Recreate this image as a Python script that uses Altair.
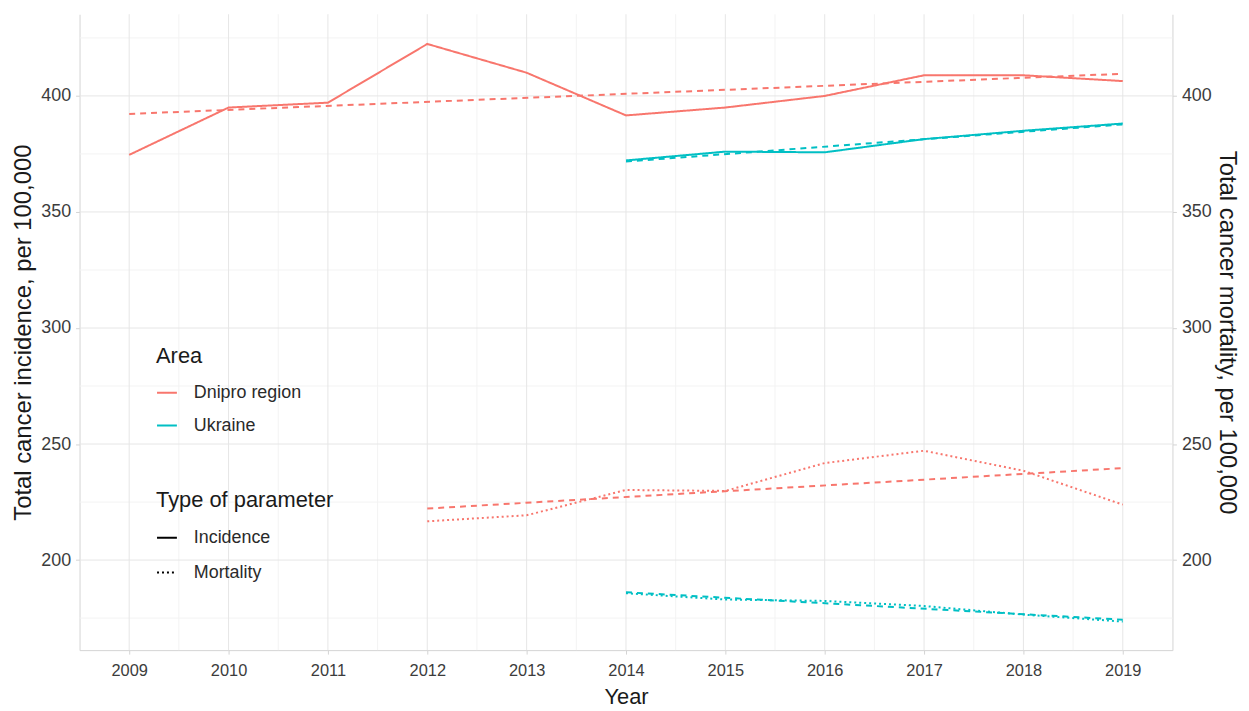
import altair as alt
import pandas as pd

# ---- data ----
years_dnipro_incidence = [2009, 2010, 2011, 2012, 2013, 2014, 2015, 2016, 2017, 2018, 2019]
dnipro_incidence = [374.6, 395.0, 397.1, 422.4, 410.0, 391.6, 395.0, 400.0, 408.9, 408.9, 406.4]

years_dnipro_mortality = [2012, 2013, 2014, 2015, 2016, 2017, 2018, 2019]
dnipro_mortality = [216.7, 219.3, 230.2, 229.8, 241.8, 247.1, 238.5, 223.9]

years_ukraine = [2014, 2015, 2016, 2017, 2018, 2019]
ukraine_incidence = [372.2, 376.0, 375.7, 381.4, 385.0, 388.1]
ukraine_mortality = [185.7, 183.0, 182.4, 180.2, 176.5, 173.5]

areas = ["Dnipro region", "Ukraine"]
area_colors = ["#F8766D", "#00BFC4"]
param_types = ["Incidence", "Mortality"]

x_ticks = [2009, 2010, 2011, 2012, 2013, 2014, 2015, 2016, 2017, 2018, 2019]
x_minor = [2009.5, 2010.5, 2011.5, 2012.5, 2013.5, 2014.5, 2015.5, 2016.5, 2017.5, 2018.5]
y_ticks = [200, 250, 300, 350, 400]
y_minor = [175, 225, 275, 325, 375, 425]

# ---- table ----
rows = []
for y, v in zip(years_dnipro_incidence, dnipro_incidence):
    rows.append({"year": y, "value": v, "area": areas[0], "type": param_types[0]})
for y, v in zip(years_dnipro_mortality, dnipro_mortality):
    rows.append({"year": y, "value": v, "area": areas[0], "type": param_types[1]})
for y, v in zip(years_ukraine, ukraine_incidence):
    rows.append({"year": y, "value": v, "area": areas[1], "type": param_types[0]})
for y, v in zip(years_ukraine, ukraine_mortality):
    rows.append({"year": y, "value": v, "area": areas[1], "type": param_types[1]})
df = pd.DataFrame(rows)

FONT = "Liberation Sans, Arial, Helvetica, sans-serif"

x_scale = alt.Scale(domain=[2008.5, 2019.5], nice=False, zero=False)
y_scale = alt.Scale(domain=[161.2, 435.2], nice=False, zero=False)
color_scale = alt.Scale(domain=areas, range=area_colors)
dash_scale = alt.Scale(domain=param_types, range=[[1, 0], [2, 3]])

x_axis = alt.Axis(values=x_ticks, format="d", title="Year", grid=False,
                  labelFontSize=16.5, titleFontSize=22, titlePadding=7, labelPadding=9)
y_axis_left = alt.Axis(values=y_ticks, title="Total cancer incidence, per 100,000",
                       grid=False, orient="left", labelFontSize=18,
                       titleFontSize=24, titlePadding=5, labelPadding=5)
y_axis_right = alt.Axis(values=y_ticks, title="Total cancer mortality, per 100,000",
                        grid=False, orient="right", labelFontSize=18,
                        titleFontSize=24, titlePadding=3, labelPadding=5)

X = alt.X("year:Q", scale=x_scale, axis=x_axis)
Y = alt.Y("value:Q", scale=y_scale, axis=y_axis_left)

vgrid_major = alt.Chart(pd.DataFrame({"year": x_ticks})).mark_rule(
    color="#E6E6E6", strokeWidth=1).encode(x=X)
vgrid_minor = alt.Chart(pd.DataFrame({"year": x_minor})).mark_rule(
    color="#F3F3F3", strokeWidth=1).encode(x=X)
hgrid_major = alt.Chart(pd.DataFrame({"value": y_ticks})).mark_rule(
    color="#E6E6E6", strokeWidth=1).encode(y=Y)
hgrid_minor = alt.Chart(pd.DataFrame({"value": y_minor})).mark_rule(
    color="#F3F3F3", strokeWidth=1).encode(y=Y)

color_enc = alt.Color("area:N", scale=color_scale,
                      legend=alt.Legend(title="Area", orient="none", legendX=77, legendY=334,
                                        symbolType="stroke", symbolSize=400,
                                        symbolStrokeWidth=2, symbolDash=[1, 0],
                                        labelOffset=16, rowPadding=13, titlePadding=14,
                                        padding=0, titleLimit=400, labelLimit=400))

lines = alt.Chart(df).mark_line(strokeWidth=2).encode(
    x=X, y=Y, color=color_enc,
    strokeDash=alt.StrokeDash("type:N", scale=dash_scale,
                              legend=alt.Legend(title="Type of parameter", orient="none",
                                                legendX=77, legendY=479,
                                                symbolType="stroke", symbolSize=400,
                                                symbolStrokeWidth=2, symbolStrokeColor="black",
                                                labelOffset=16, rowPadding=15,
                                                titlePadding=15, padding=0,
                                                titleLimit=400, labelLimit=400)),
)

trend = alt.Chart(df).transform_regression(
    "year", "value", groupby=["area", "type"], method="linear"
).mark_line(strokeWidth=2, strokeDash=[6, 5]).encode(
    x=X, y=Y, color=color_enc, detail="type:N")

inner = alt.layer(vgrid_minor, hgrid_minor, vgrid_major, hgrid_major, lines, trend)

right = alt.Chart(df).mark_point(opacity=0).encode(
    x=X, y=alt.Y("value:Q", scale=y_scale, axis=y_axis_right))

chart = alt.layer(inner, right).resolve_axis(y="independent").properties(
    width=1100, height=640,
    autosize=alt.AutoSizeParams(type="none"),
    padding={"left": 72, "top": 4, "right": 69, "bottom": 59},
).configure_view(stroke=None).configure_axis(
    domainColor="#D4D4D4", tickColor="#D4D4D4", tickSize=4,
    labelFont=FONT, titleFont=FONT,
    labelColor="#3C3C3C", titleColor="#1A1A1A", titleFontWeight="normal",
).configure_legend(
    titleFont=FONT, titleFontSize=22, titleFontWeight="normal", titleColor="#1A1A1A",
    labelFont=FONT, labelFontSize=18, labelColor="#2A2A2A",
)

chart.save("out.html", embed_options={"renderer": "svg", "actions": False})
